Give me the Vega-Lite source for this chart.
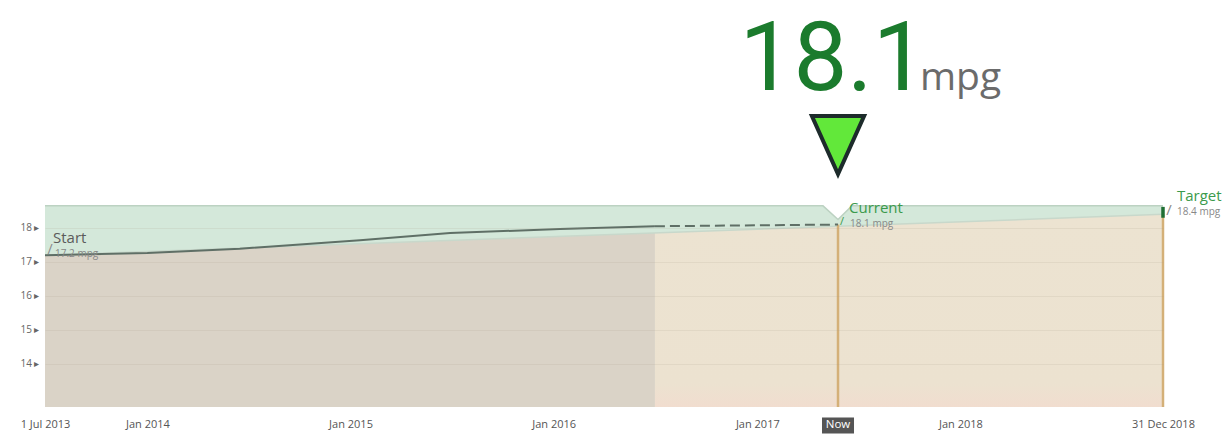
{
  "$schema": "https://vega.github.io/schema/vega-lite/v6.json",
  "width": 1118,
  "height": 247,
  "autosize": "none",
  "padding": {"left": 45, "top": 160, "right": 62, "bottom": 30},
  "background": "#ffffff",
  "config": {"view": {"stroke": null}, "font": "Open Sans"},
  "datasets": {
    "actual": [
      {"date": "2013/07/01", "v": 17.2},
      {"date": "2014/01/01", "v": 17.26},
      {"date": "2014/06/16", "v": 17.39},
      {"date": "2015/01/18", "v": 17.64},
      {"date": "2015/06/29", "v": 17.85},
      {"date": "2016/01/12", "v": 17.97},
      {"date": "2016/07/01", "v": 18.05}
    ],
    "projection": [
      {"date": "2016/07/01", "v": 18.05},
      {"date": "2017/05/26", "v": 18.1}
    ],
    "band": [
      {"date": "2013/07/01", "v": 18.65},
      {"date": "2017/04/29", "v": 18.65},
      {"date": "2017/05/26", "v": 18.25},
      {"date": "2017/06/20", "v": 18.65},
      {"date": "2018/12/31", "v": 18.65}
    ],
    "trajPast": [
      {"date": "2013/07/01", "v": 17.2},
      {"date": "2016/07/01", "v": 17.855}
    ],
    "trajFuture": [
      {"date": "2016/07/01", "v": 17.855},
      {"date": "2018/12/31", "v": 18.4}
    ],
    "trajectory": [
      {"date": "2013/07/01", "v": 17.2},
      {"date": "2018/12/31", "v": 18.4}
    ],
    "markers": [
      {"date": "2013/07/01", "v": 17.2, "name": "Start", "sub": "17.2 mpg"},
      {"date": "2017/05/26", "v": 18.1, "name": "Current", "sub": "18.1 mpg"},
      {"date": "2018/12/31", "v": 18.4, "name": "Target", "sub": "18.4 mpg"}
    ]
  },
  "encoding": {
    "x": {
      "field": "date",
      "type": "temporal",
      "scale": {
        "domain": [{"year": 2013, "month": 7, "date": 1}, {"year": 2018, "month": 12, "date": 31}],
        "nice": false
      },
      "axis": {
        "title": null,
        "values": [
          {"year": 2013, "month": 7, "date": 1},
          {"year": 2014, "month": 1, "date": 1},
          {"year": 2015, "month": 1, "date": 1},
          {"year": 2016, "month": 1, "date": 1},
          {"year": 2017, "month": 1, "date": 1},
          {"year": 2018, "month": 1, "date": 1},
          {"year": 2018, "month": 12, "date": 31}
        ],
        "labelExpr": "month(datum.value) == 6 ? '1 Jul 2013' : (month(datum.value) == 11 ? '31 Dec 2018' : timeFormat(datum.value, '%b %Y'))",
        "domain": false,
        "ticks": false,
        "grid": false,
        "labelFlush": false,
        "labelOverlap": false,
        "labelPadding": 11,
        "labelFontSize": 11,
        "labelColor": "#555555"
      }
    },
    "y": {
      "field": "v",
      "type": "quantitative",
      "scale": {"domain": [12.73, 20], "nice": false, "zero": false},
      "axis": {
        "title": null,
        "values": [14, 15, 16, 17, 18],
        "labelExpr": "datum.label + ' ▸'",
        "domain": false,
        "ticks": false,
        "labelPadding": 6,
        "labelFontSize": 10,
        "labelColor": "#666666",
        "grid": true,
        "gridColor": "#a89d88",
        "gridOpacity": 0.15,
        "zindex": 1
      }
    }
  },
  "layer": [
    {
      "data": {"values": [{}]},
      "mark": {"type": "rect", "color": "#f6f6f6"},
      "encoding": {
        "x": {"datum": {"year": 2013, "month": 4, "date": 26}, "type": "temporal"},
        "x2": {"datum": {"year": 2019, "month": 3, "date": 25}},
        "y": {"datum": 11.8, "type": "quantitative"},
        "y2": {"datum": 20}
      }
    },
    {
      "data": {"values": [{}]},
      "mark": {"type": "rect", "color": "#ffffff"},
      "encoding": {
        "x": {"datum": {"year": 2013, "month": 7, "date": 1}, "type": "temporal"},
        "x2": {"datum": {"year": 2018, "month": 12, "date": 31}},
        "y": {"datum": 12.73, "type": "quantitative"},
        "y2": {"datum": 20}
      }
    },
    {
      "data": {"name": "band"},
      "mark": {"type": "area", "color": "#d4e8da", "opacity": 1, "line": {"color": "#bcd2c2", "strokeWidth": 1.5}},
      "encoding": {"y2": {"datum": 12.73}}
    },
    {
      "data": {"name": "trajPast"},
      "mark": {"type": "area", "color": "#dad3c7", "opacity": 1},
      "encoding": {"y2": {"datum": 12.73}}
    },
    {
      "data": {"name": "trajFuture"},
      "mark": {
        "type": "area",
        "opacity": 1,
        "color": {
          "gradient": "linear", "x1": 0, "y1": 0, "x2": 0, "y2": 1,
          "stops": [
            {"offset": 0, "color": "#ece3d1"},
            {"offset": 0.88, "color": "#ece2d0"},
            {"offset": 1, "color": "#f1ddcf"}
          ]
        }
      },
      "encoding": {"y2": {"datum": 12.73}}
    },
    {
      "data": {"name": "trajectory"},
      "mark": {"type": "line", "color": "#c8d8cb", "strokeWidth": 1.5},
      "encoding": {}
    },
    {
      "data": {"name": "markers"},
      "transform": [{"filter": "datum.name !== 'Start'"}],
      "mark": {"type": "rule", "color": "#d4b078", "strokeWidth": 2.5},
      "encoding": {"y2": {"datum": 12.73}}
    },
    {
      "data": {"name": "markers"},
      "transform": [{"filter": "datum.name === 'Target'"}],
      "mark": {"type": "rule", "color": "#1f6e33", "strokeWidth": 3.5},
      "encoding": {"y": {"datum": 18.3, "type": "quantitative"}, "y2": {"datum": 18.62}}
    },
    {
      "data": {"name": "actual"},
      "mark": {"type": "line", "color": "#5f6f66", "strokeWidth": 2},
      "encoding": {}
    },
    {
      "data": {"name": "projection"},
      "mark": {"type": "line", "color": "#5f6f66", "strokeWidth": 2, "strokeDash": [10, 5]},
      "encoding": {}
    },
    {
      "data": {"name": "markers"},
      "transform": [{"filter": "datum.name === 'Start'"}],
      "mark": {"type": "text", "align": "left", "baseline": "alphabetic", "dx": 8, "dy": -12, "fontSize": 15, "color": "#5b5b5b"},
      "encoding": {"text": {"field": "name"}}
    },
    {
      "data": {"name": "markers"},
      "transform": [{"filter": "datum.name === 'Current'"}],
      "mark": {"type": "text", "align": "left", "baseline": "alphabetic", "dx": 11, "dy": -12, "fontSize": 15, "color": "#3b9a4c"},
      "encoding": {"text": {"field": "name"}}
    },
    {
      "data": {"name": "markers"},
      "transform": [{"filter": "datum.name === 'Target'"}],
      "mark": {"type": "text", "align": "left", "baseline": "alphabetic", "dx": 14, "dy": -13.5, "fontSize": 15, "color": "#3b9a4c"},
      "encoding": {"text": {"field": "name"}}
    },
    {
      "data": {"name": "markers"},
      "transform": [{"filter": "datum.name === 'Start'"}],
      "mark": {"type": "text", "align": "left", "baseline": "alphabetic", "dx": 10, "dy": 2, "fontSize": 10, "color": "#888888"},
      "encoding": {"text": {"field": "sub"}}
    },
    {
      "data": {"name": "markers"},
      "transform": [{"filter": "datum.name === 'Current'"}],
      "mark": {"type": "text", "align": "left", "baseline": "alphabetic", "dx": 12, "dy": 2, "fontSize": 10, "color": "#888888"},
      "encoding": {"text": {"field": "sub"}}
    },
    {
      "data": {"name": "markers"},
      "transform": [{"filter": "datum.name === 'Target'"}],
      "mark": {"type": "text", "align": "left", "baseline": "alphabetic", "dx": 14, "dy": 0.5, "fontSize": 10, "color": "#888888"},
      "encoding": {"text": {"field": "sub"}}
    },
    {
      "data": {"name": "markers"},
      "transform": [{"filter": "datum.name === 'Start'"}],
      "mark": {"type": "text", "text": "/", "align": "center", "baseline": "middle", "dx": 5, "dy": -5, "fontSize": 14, "color": "#8a8a8a"}
    },
    {
      "data": {"name": "markers"},
      "transform": [{"filter": "datum.name === 'Current'"}],
      "mark": {"type": "text", "text": "/", "align": "center", "baseline": "middle", "dx": 4, "dy": -3, "fontSize": 11, "color": "#3b9a4c"}
    },
    {
      "data": {"name": "markers"},
      "transform": [{"filter": "datum.name === 'Target'"}],
      "mark": {"type": "text", "text": "/", "align": "center", "baseline": "middle", "dx": 6, "dy": -4, "fontSize": 15, "color": "#8a8a8a"}
    },
    {
      "data": {"name": "markers"},
      "transform": [{"filter": "datum.name === 'Current'"}],
      "mark": {"type": "text", "align": "center", "baseline": "alphabetic", "dx": -5, "fontSize": 96, "font": "Roboto", "color": "#1b7b2d"},
      "encoding": {"y": {"datum": 22.06, "type": "quantitative"}, "text": {"field": "v", "format": ".1f"}}
    },
    {
      "data": {"name": "markers"},
      "transform": [{"filter": "datum.name === 'Current'"}],
      "mark": {"type": "text", "text": "mpg", "align": "left", "baseline": "alphabetic", "dx": 82, "fontSize": 39, "color": "#6b6b6b"},
      "encoding": {"y": {"datum": 22.06, "type": "quantitative"}}
    },
    {
      "data": {"name": "markers"},
      "transform": [{"filter": "datum.name === 'Current'"}],
      "mark": {"type": "point", "shape": "M-0.9,-1L0.9,-1L0,1Z", "size": 3364, "filled": true, "fill": "#62e83a", "stroke": "#1d2b2b", "strokeWidth": 4, "opacity": 1, "dx": 2},
      "encoding": {"y": {"datum": 20.44, "type": "quantitative"}}
    },
    {
      "data": {"name": "markers"},
      "transform": [{"filter": "datum.name === 'Current'"}],
      "mark": {"type": "point", "shape": "M-1,-0.5L1,-0.5L1,0.5L-1,0.5Z", "size": 1024, "filled": true, "fill": "#555555", "strokeWidth": 0, "opacity": 1},
      "encoding": {"y": {"datum": 12.186, "type": "quantitative"}}
    },
    {
      "data": {"name": "markers"},
      "transform": [{"filter": "datum.name === 'Current'"}],
      "mark": {"type": "text", "text": "Now", "align": "center", "baseline": "middle", "fontSize": 11.5, "color": "#ffffff"},
      "encoding": {"y": {"datum": 12.186, "type": "quantitative"}}
    }
  ]
}
